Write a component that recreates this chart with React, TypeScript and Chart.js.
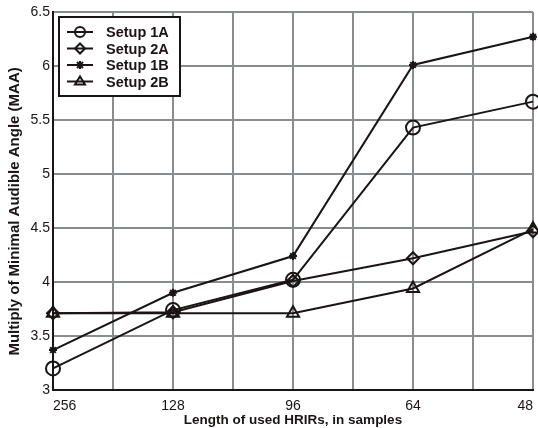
import React, { useEffect, useRef } from "react";
import { Chart, registerables } from "chart.js";

Chart.register(...registerables);

const xLabels = ["256", "128", "96", "64", "48"];
const setup1A = [3.2, 3.74, 4.02, 5.43, 5.67];
const setup2A = [3.71, 3.72, 4.01, 4.22, 4.47];
const setup1B = [3.37, 3.9, 4.24, 6.01, 6.27];
const setup2B = [3.71, 3.71, 3.71, 3.94, 4.49];
const seriesLabels = ["Setup 1A", "Setup 2A", "Setup 1B", "Setup 2B"];

const FONT = "'Liberation Sans', Arial, sans-serif";
const INK = "#1a1414";

function drawMarker(ctx: CanvasRenderingContext2D, style: string, r: number, x: number, y: number) {
  ctx.beginPath();
  if (style === "circle") {
    ctx.arc(x, y, r, 0, Math.PI * 2);
  } else if (style === "rectRot") {
    ctx.moveTo(x, y - r);
    ctx.lineTo(x + r, y);
    ctx.lineTo(x, y + r);
    ctx.lineTo(x - r, y);
    ctx.closePath();
  } else if (style === "triangle") {
    ctx.moveTo(x, y - r);
    ctx.lineTo(x + r, y + r * 0.6);
    ctx.lineTo(x - r, y + r * 0.6);
    ctx.closePath();
  } else {
    const d = r * 0.75;
    ctx.moveTo(x - d, y - d);
    ctx.lineTo(x + d, y + d);
    ctx.moveTo(x + d, y - d);
    ctx.lineTo(x - d, y + d);
    ctx.moveTo(x, y - r);
    ctx.lineTo(x, y + r);
  }
  ctx.stroke();
}

const legendPlugin = {
  id: "insideLegend",
  afterDraw(chart: any) {
    const ctx = chart.ctx;
    const area = chart.chartArea;
    const x0 = area.left + 6;
    const y0 = area.top + 5;
    const w = 121;
    const h = 79;
    ctx.save();
    ctx.fillStyle = "#ffffff";
    ctx.fillRect(x0, y0, w, h);
    ctx.strokeStyle = INK;
    ctx.lineWidth = 2;
    ctx.strokeRect(x0, y0, w, h);
    chart.data.datasets.forEach((ds: any, i: number) => {
      const cy = y0 + 15 + i * 16.5;
      ctx.strokeStyle = INK;
      ctx.lineWidth = 2;
      ctx.beginPath();
      ctx.moveTo(x0 + 8, cy);
      ctx.lineTo(x0 + 34, cy);
      ctx.stroke();
      drawMarker(ctx, ds.pointStyle, Math.min(ds.pointRadius, 5), x0 + 21, cy);
      ctx.fillStyle = INK;
      ctx.font = `bold 14.5px ${FONT}`;
      ctx.textAlign = "left";
      ctx.textBaseline = "middle";
      ctx.fillText(ds.label, x0 + 47, cy + 1);
    });
    ctx.restore();
  },
};

export default function App() {
  const ref = useRef<HTMLCanvasElement | null>(null);
  useEffect(() => {
    if (!ref.current) return;
    const mk = (label: string, vals: number[], style: string, r: number) => ({
      label,
      data: vals.map((v, i) => ({ x: i, y: v })),
      borderColor: INK,
      backgroundColor: "rgba(0,0,0,0)",
      borderWidth: 2,
      pointStyle: style,
      pointRadius: r,
      pointBorderWidth: 2,
      pointBorderColor: INK,
      pointBackgroundColor: "rgba(0,0,0,0)",
      fill: false,
      tension: 0,
      clip: false as any,
    });
    const chart = new Chart(ref.current, {
      type: "line",
      data: {
        datasets: [
          mk(seriesLabels[0], setup1A, "circle", 7),
          mk(seriesLabels[1], setup2A, "rectRot", 6),
          mk(seriesLabels[2], setup1B, "star", 4),
          mk(seriesLabels[3], setup2B, "triangle", 7),
        ],
      },
      options: {
        animation: false,
        responsive: false,
        maintainAspectRatio: false,
        layout: { autoPadding: false, padding: { top: 12, right: 5, left: 0, bottom: 0 } },
        plugins: { legend: { display: false }, tooltip: { enabled: false } },
        scales: {
          x: {
            type: "linear",
            min: 0,
            max: 4,
            afterFit: (s: any) => {
              s.height = 38;
              s.paddingLeft = 0;
              s.paddingRight = 0;
            },
            grid: { color: "#8a8d90", lineWidth: 2, drawTicks: false },
            border: { color: INK, width: 2 },
            ticks: {
              stepSize: 0.5,
              autoSkip: false,
              maxRotation: 0,
              align: "inner",
              padding: 8,
              color: INK,
              font: { family: FONT, size: 14 },
              callback: (v: any) =>
                Number.isInteger(v) ? xLabels[v] : "",
            },
            title: {
              display: true,
              text: "Length of used HRIRs, in samples",
              color: INK,
              font: { family: FONT, size: 13.5, weight: "bold" },
              padding: { top: 0, bottom: 0 },
            },
          },
          y: {
            min: 3,
            max: 6.5,
            afterFit: (s: any) => {
              s.width = 53;
              s.paddingTop = 0;
              s.paddingBottom = 0;
            },
            grid: { color: "#8a8d90", lineWidth: 2, drawTicks: false },
            border: { color: INK, width: 2 },
            ticks: {
              stepSize: 0.5,
              padding: 3,
              color: INK,
              font: { family: FONT, size: 14 },
              callback: (v: any) => String(v),
            },
            title: {
              display: true,
              text: "Multiply of Minimal Audible Angle (MAA)     ",
              color: INK,
              font: { family: FONT, size: 15, weight: "bold" },
              padding: { top: 6, bottom: 0 },
            },
          },
        },
      },
      plugins: [legendPlugin],
    });
    return () => chart.destroy();
  }, []);
  return (
    <div style={{ position: "fixed", left: 0, top: 0, width: 538, height: 428, background: "#fff" }}>
      <canvas ref={ref} width={538} height={428} />
    </div>
  );
}
